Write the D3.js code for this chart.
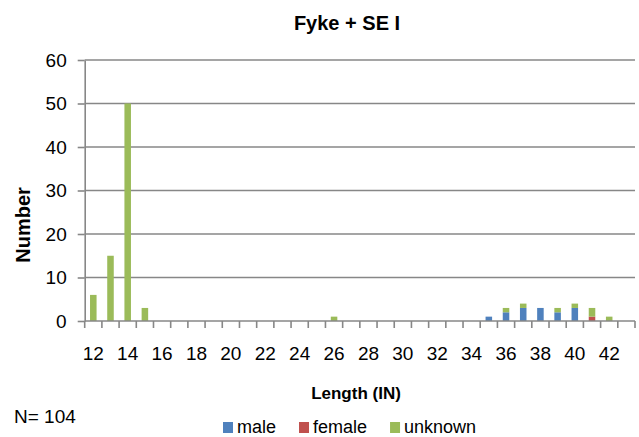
<!DOCTYPE html>
<html>
<head>
<meta charset="utf-8">
<script src="https://cdn.jsdelivr.net/npm/d3@7"></script>
<style>
  html, body { margin: 0; padding: 0; background: #fff; }
  svg { display: block; }
  text { font-family: "Liberation Sans", Arial, sans-serif; fill: #000; }
</style>
</head>
<body>
<script>
// ---- data ----
const lengths = [12,13,14,15,16,17,18,19,20,21,22,23,24,25,26,27,28,29,30,31,32,33,34,35,36,37,38,39,40,41,42,43];
const male    = [0,0,0,0,0,0,0,0,0,0,0,0,0,0,0,0,0,0,0,0,0,0,0,1,2,3,3,2,3,0,0,0];
const female  = [0,0,0,0,0,0,0,0,0,0,0,0,0,0,0,0,0,0,0,0,0,0,0,0,0,0,0,0,0,1,0,0];
const unknown = [6,15,50,3,0,0,0,0,0,0,0,0,0,0,1,0,0,0,0,0,0,0,0,0,1,1,0,1,1,2,1,0];
const seriesNames = ["male","female","unknown"];
const seriesColors = ["#4F81BD","#C0504D","#9BBB59"];
const yTicks = [0,10,20,30,40,50,60];
const xTickLabels = [12,14,16,18,20,22,24,26,28,30,32,34,36,38,40,42];
const title = "Fyke + SE I";
const xTitle = "Length (IN)";
const yTitle = "Number";
const nNote = "N= 104";

// ---- layout ----
const W = 639, H = 437;
const mLeft = 84.7, mRight = 635, mTop = 60, mBottom = 321;
const gridColor = "#878787";

const svg = d3.select("body").append("svg").attr("width", W).attr("height", H);

const x = d3.scaleBand().domain(lengths).range([mLeft, mRight]).paddingInner(0.62).paddingOuter(0.31);
const y = d3.scaleLinear().domain([0, 60]).range([mBottom, mTop]);

// gridlines
svg.append("g").selectAll("line").data(yTicks.filter(d => d > 0)).join("line")
  .attr("x1", mLeft).attr("x2", mRight)
  .attr("y1", d => y(d)).attr("y2", d => y(d))
  .attr("stroke", gridColor).attr("stroke-width", 1.6);

// y axis
const yAxis = d3.axisLeft(y).tickValues(yTicks).tickSize(7).tickPadding(11).tickSizeOuter(0);
const gy = svg.append("g").attr("transform", `translate(${mLeft},0)`).call(yAxis);
gy.select(".domain").attr("stroke", gridColor).attr("stroke-width", 1.6);
gy.selectAll(".tick line").attr("stroke", gridColor).attr("stroke-width", 1.6);
gy.selectAll(".tick text").attr("font-size", 19).attr("font-family", "Liberation Sans, Arial, sans-serif").attr("fill", "#000");

// stacked bars
const rows = lengths.map((L, i) => ({ L, male: male[i], female: female[i], unknown: unknown[i] }));
const stack = d3.stack().keys(seriesNames)(rows);
svg.append("g").selectAll("g").data(stack).join("g")
  .attr("fill", (d, i) => seriesColors[i])
  .selectAll("rect").data(d => d.filter(s => s[1] - s[0] > 0)).join("rect")
  .attr("x", d => x(d.data.L))
  .attr("width", x.bandwidth())
  .attr("y", d => y(d[1]))
  .attr("height", d => y(d[0]) - y(d[1]));

// x axis line and tick marks at category boundaries
const step = x.step();
const boundaries = d3.range(lengths.length + 1).map(i => mLeft + i * step);
svg.append("line").attr("x1", mLeft).attr("x2", mRight).attr("y1", mBottom).attr("y2", mBottom)
  .attr("stroke", gridColor).attr("stroke-width", 1.6);
svg.append("g").selectAll("line").data(boundaries).join("line")
  .attr("x1", d => d).attr("x2", d => d).attr("y1", mBottom).attr("y2", mBottom + 7)
  .attr("stroke", gridColor).attr("stroke-width", 1.6);

// x tick labels
svg.append("g").selectAll("text").data(xTickLabels).join("text")
  .attr("x", d => x(d) + x.bandwidth() / 2)
  .attr("y", 360)
  .attr("text-anchor", "middle")
  .attr("font-size", 19)
  .text(d => d);

// title
svg.append("text").attr("x", 347).attr("y", 30).attr("text-anchor", "middle")
  .attr("font-size", 20).attr("font-weight", "bold").text(title);

// axis titles
svg.append("text").attr("x", 356).attr("y", 399).attr("text-anchor", "middle")
  .attr("font-size", 17).attr("font-weight", "bold").text(xTitle);
svg.append("text").attr("transform", "translate(30,225) rotate(-90)").attr("text-anchor", "middle")
  .attr("font-size", 20).attr("font-weight", "bold").text(yTitle);

// N note
svg.append("text").attr("x", 14).attr("y", 423).attr("font-size", 19).text(nNote);

// legend
const lg = svg.append("g");
let lx = 223;
seriesNames.forEach((name, i) => {
  lg.append("rect").attr("x", lx).attr("y", 422).attr("width", 10).attr("height", 11).attr("fill", seriesColors[i]);
  const t = lg.append("text").attr("x", lx + 14).attr("y", 433).attr("font-size", 18).text(name);
  lx += 14 + t.node().getComputedTextLength() + 23;
});
</script>
</body>
</html>
